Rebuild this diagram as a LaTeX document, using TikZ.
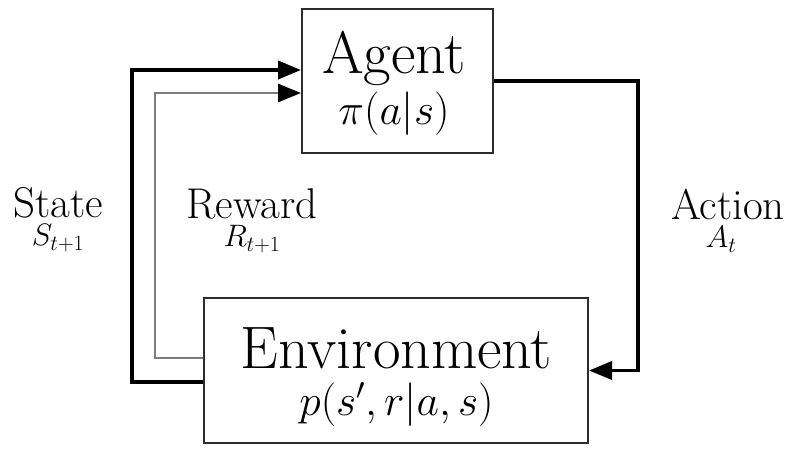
\RequirePackage{fix-cm}
\documentclass[tikz,border=0pt]{standalone}
\usetikzlibrary{arrows.meta}
\definecolor{boxgray}{RGB}{45,45,45}
\definecolor{rewardgray}{RGB}{125,125,125}
\newcommand{\midsize}{\fontsize{43.5}{46}\selectfont}
\newcommand{\subsize}{\fontsize{31}{33}\selectfont}
\tikzset{
  box/.style={draw=boxgray, line width=2pt, inner sep=0pt},
  boxtext/.style={font=\fontsize{60}{47}\selectfont, inner sep=0pt, anchor=north, align=center},
  lbl/.style={font=\fontsize{43}{28.5}\selectfont, inner sep=0pt, anchor=north, align=center},
  tip/.style={-{Triangle[length=23pt,width=18pt,color=black]}},
  stateline/.style={tip, line width=3.8pt, black},
  rewardline/.style={tip, line width=2.8pt, rewardgray},
  actionline/.style={tip, line width=3.8pt, black},
}
\begin{document}
\begin{tikzpicture}[x=1pt,y=-1pt]
\useasboundingbox (0,0) rectangle (796,456);
% boxes
\node[box, minimum width=191pt, minimum height=144pt] (agent) at (397.5,81) {};
\node[box, minimum width=384pt, minimum height=145pt] (env) at (396,370.5) {};
% texts in boxes
\node[boxtext, font=\fontsize{60}{51}\selectfont] (agenttxt) at (394,31) {Agent\\{\midsize$\pi(a|s)$}};
\node[boxtext] (envtxt) at (396.5,327) {Environment\\{\midsize$p(s',r|a,s)$}};
% connectors
\draw[stateline] ([yshift=-11.5pt]env.west) -- ++(-71pt,0) |- ([yshift=11pt]agent.west);
\draw[rewardline] ([yshift=12.5pt]env.west) -- ++(-48pt,0) |- ([yshift=-12pt]agent.west);
\draw[actionline] (agent.east) -- ++(144pt,0) |- (env.east);
% labels
\node[lbl] (state) at (58,187) {State\\{\subsize$S_{t+1}$}};
\node[lbl] (reward) at (252,188) {Reward\\{\subsize$R_{t+1}$}};
\node[lbl] (action) at (728,188.5) {Action\\{\subsize$A_t$\kern14pt}};
\end{tikzpicture}
\end{document}
